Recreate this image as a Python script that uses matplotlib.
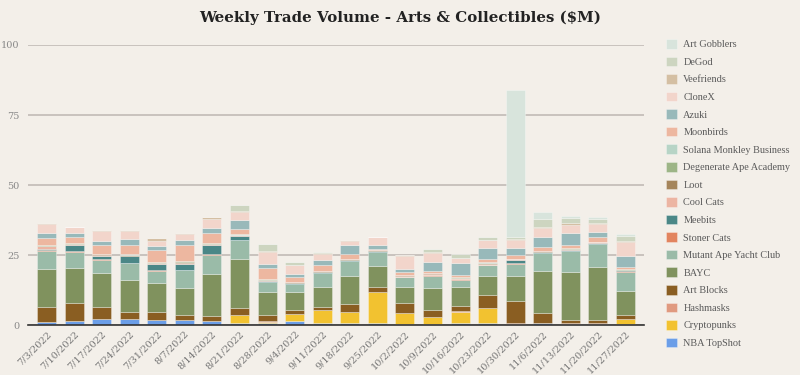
import matplotlib
matplotlib.use("Agg")
import matplotlib.pyplot as plt
import numpy as np

weeks = ["7/3/2022", "7/10/2022", "7/17/2022", "7/24/2022", "7/31/2022", "8/7/2022",
         "8/14/2022", "8/21/2022", "8/28/2022", "9/4/2022", "9/11/2022", "9/18/2022",
         "9/25/2022", "10/2/2022", "10/9/2022", "10/16/2022", "10/23/2022", "10/30/2022",
         "11/6/2022", "11/13/2022", "11/20/2022", "11/27/2022"]

nba_topshot = [1.1, 1.4, 2.0, 2.3, 1.8, 1.8, 1.4, 0.8, 0.7, 1.4, 0.8, 0.8, 0.7, 0.4, 0.4, 0.7, 0.6, 0.4, 0.6, 0.4, 0.4, 0.4]
cryptopunks = [0, 0, 0, 0, 0, 0, 0, 2.6, 0.2, 2.4, 4.4, 3.7, 11.0, 3.8, 2.4, 4.0, 5.3, 0.1, 0.1, 0.1, 0.1, 1.6]
hashmasks = [0, 0, 0, 0, 0, 0, 0, 0.2, 0.5, 0.1, 0.2, 0.2, 0.2, 0.2, 0.2, 0.2, 0.2, 0.1, 0.1, 0.1, 0.1, 0.2]
art_blocks = [5.5, 6.5, 4.5, 2.4, 2.9, 1.8, 1.8, 2.6, 2.2, 1.5, 1.1, 2.8, 1.5, 3.4, 2.5, 2.0, 4.7, 8.0, 3.5, 1.2, 1.2, 1.5]
bayc = [13.5, 12.3, 12.1, 11.4, 10.4, 9.5, 15.1, 17.5, 8.2, 6.5, 7.1, 9.9, 7.7, 5.6, 7.6, 6.5, 6.8, 9.0, 15.1, 17.0, 19.0, 8.5]
mayc = [6.5, 6.0, 4.7, 6.1, 4.3, 6.6, 6.8, 6.5, 3.4, 2.6, 4.8, 5.3, 4.9, 3.6, 4.5, 2.8, 3.7, 4.3, 6.2, 7.7, 8.0, 6.9]
stoner_cats = [0.1, 0.1, 0.1, 0.1, 0.1, 0.1, 0.1, 0.2, 0.1, 0.1, 0.1, 0.1, 0.1, 0.1, 0.2, 0.1, 0.1, 0.1, 0.1, 0.1, 0.1, 0.1]
meebits = [0.5, 2.3, 1.3, 2.2, 2.4, 2.1, 3.5, 1.3, 0.3, 0.3, 0.3, 0.3, 0.3, 0.2, 0.2, 0.3, 0.2, 1.1, 0.2, 0.3, 0.3, 0.3]
cool_cats = [1.0, 0.3, 0.4, 0.3, 0.3, 0.4, 0.3, 0.4, 0.3, 0.2, 0.3, 0.2, 0.2, 0.3, 0.3, 0.2, 0.2, 0.3, 0.3, 0.3, 0.3, 0.2]
loot = [0.1, 0.2, 0.2, 0.2, 0.1, 0.3, 0.1, 0.1, 0.2, 0.1, 0.1, 0.1, 0.1, 0.1, 0.1, 0.1, 0.2, 0.1, 0.1, 0.1, 0.1, 0.1]
daa = [0.1, 0.1, 0.1, 0.1, 0.1, 0.2, 0.1, 0.1, 0.2, 0.1, 0.1, 0.1, 0.1, 0.1, 0.1, 0.1, 0.3, 0.1, 0.1, 0.1, 0.1, 0.1]
smb = [0.1, 0.0, 0.1, 0.1, 0.1, 0.1, 0.1, 0.1, 0.2, 0.1, 0.1, 0.1, 0.1, 0.1, 0.1, 0.1, 0.2, 0.1, 0.1, 0.1, 0.1, 0.1]
moonbirds = [2.6, 2.1, 3.2, 3.5, 4.4, 5.8, 3.4, 1.9, 4.0, 1.9, 1.9, 1.7, 0.3, 1.0, 0.8, 0.6, 1.2, 1.3, 1.3, 1.1, 1.5, 0.7]
azuki = [1.8, 1.4, 1.4, 2.1, 1.4, 1.8, 2.1, 3.3, 1.2, 1.0, 2.0, 3.1, 1.5, 1.2, 3.2, 4.5, 3.9, 2.6, 3.5, 4.4, 2.0, 4.0]
clonex = [3.3, 2.2, 3.4, 2.7, 1.7, 2.1, 3.1, 2.7, 4.3, 3.0, 2.1, 1.7, 2.6, 4.4, 3.1, 1.6, 2.6, 2.9, 3.3, 2.8, 2.8, 4.8]
veefriends = [0.4, 0.2, 0.4, 0.6, 1.2, 0.4, 0.5, 0.3, 0.3, 0.2, 0.3, 0.2, 0.1, 0.4, 0.3, 0.2, 0.3, 0.2, 0.4, 0.8, 0.3, 0.4]
degod = [0, 0, 0, 0, 0, 0, 0, 2.1, 2.7, 1.0, 0.5, 0.2, 0.1, 0.1, 1.1, 1.4, 0.8, 0.7, 3.0, 1.6, 1.6, 2.0]
art_gobblers = [0, 0, 0, 0, 0, 0, 0, 0, 0, 0, 0, 0, 0, 0, 0, 0, 0, 52.6, 2.4, 0.7, 0.6, 0.7]

series_names = ["NBA TopShot", "Cryptopunks", "Hashmasks", "Art Blocks", "BAYC",
                "Mutant Ape Yacht Club", "Stoner Cats", "Meebits", "Cool Cats", "Loot",
                "Degenerate Ape Academy", "Solana Monkley Business", "Moonbirds", "Azuki",
                "CloneX", "Veefriends", "DeGod", "Art Gobblers"]
series_values = [nba_topshot, cryptopunks, hashmasks, art_blocks, bayc, mayc, stoner_cats,
                 meebits, cool_cats, loot, daa, smb, moonbirds, azuki, clonex, veefriends,
                 degod, art_gobblers]
series_colors = ["#6b9ee8", "#f2c230", "#e09a80", "#8a5e22", "#80925e", "#9abba8",
                 "#e2845f", "#4a8787", "#ecb5a3", "#a5855b", "#9db587", "#b7d4c6",
                 "#edb7a0", "#98b9ba", "#f2d5cb", "#d4bfa3", "#cdd5c0", "#d8e4dc"]

bg = "#f3efe9"
serif = ["DejaVu Serif"]

fig = plt.figure(figsize=(8, 3.75), dpi=100, facecolor=bg)
ax = fig.add_axes([0.035, 0.1333, 0.77, 0.7467], facecolor=bg)

x = np.arange(len(weeks))
bottom = np.zeros(len(weeks))
handles = []
for name, vals, col in zip(series_names, series_values, series_colors):
    v = np.array(vals, dtype=float)
    b = ax.bar(x, v, width=0.69, bottom=bottom, color=col, label=name,
               edgecolor=(1, 1, 1, 0.35), linewidth=0.6)
    handles.append(b)
    bottom += v

ax.set_xlim(-0.67, len(weeks) - 0.33)
ax.set_ylim(0, 100)
ax.set_yticks([0, 25, 50, 75, 100])
ax.yaxis.grid(True, color="#bdb6b1", linewidth=1.1)
ax.set_axisbelow(True)
for s in ["top", "right", "left"]:
    ax.spines[s].set_visible(False)
ax.spines["bottom"].set_color("#333333")
ax.spines["bottom"].set_linewidth(1.2)
ax.tick_params(axis="y", length=0, pad=6, labelsize=7, labelcolor="#888888")
ax.tick_params(axis="x", length=0, pad=3, labelsize=7, labelcolor="#777777")
ax.set_xticks(x)
ax.set_xticklabels(weeks, rotation=45, ha="right", rotation_mode="anchor", family=serif)
for lab in ax.get_yticklabels():
    lab.set_family(serif)

fig.text(0.5, 0.952, "Weekly Trade Volume - Arts & Collectibles ($M)", ha="center", va="center",
         fontsize=10.8, fontweight="bold", family=serif, color="#222222")

leg = fig.legend(handles[::-1], series_names[::-1], loc="upper left",
                 bbox_to_anchor=(0.833, 0.896), frameon=False,
                 prop={"family": ["Liberation Serif"], "size": 7.4}, labelcolor="#5a5a5a",
                 handlelength=1.05, handleheight=1.05, handletextpad=0.6,
                 labelspacing=0.71, borderaxespad=0, borderpad=0)

fig.savefig("out.png", dpi=100, facecolor=bg)
